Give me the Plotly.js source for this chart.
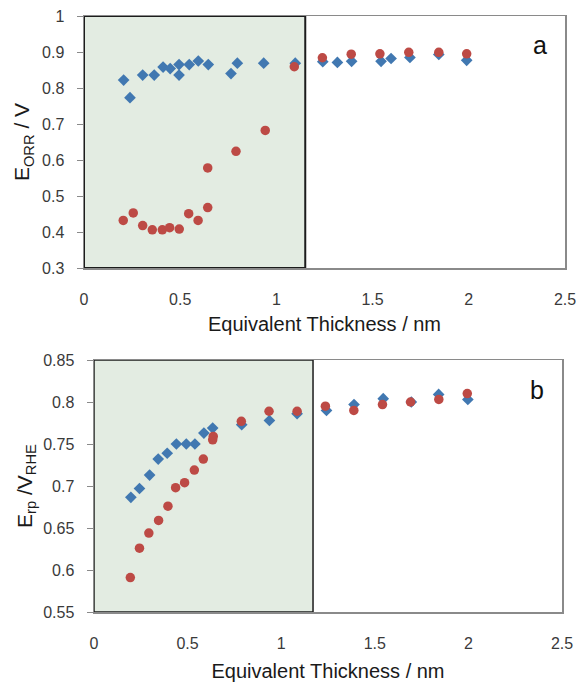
<!DOCTYPE html>
<html>
<head>
<meta charset="utf-8">
<script src="https://cdn.plot.ly/plotly-3.0.1.min.js"></script>
<style>html,body{margin:0;padding:0;background:#fff;}#chart{width:576px;height:682px;}</style>
</head>
<body>
<div id="chart"></div>
<script>
// Panel a: E_ORR vs equivalent thickness
const aBlueX = [0.206,0.239,0.305,0.365,0.411,0.448,0.494,0.494,0.547,0.594,0.646,0.764,0.797,0.934,1.098,1.241,1.317,1.391,1.544,1.596,1.694,1.844,1.989];
const aBlueY = [0.822,0.773,0.836,0.836,0.858,0.854,0.865,0.836,0.865,0.875,0.865,0.840,0.869,0.869,0.869,0.873,0.871,0.874,0.874,0.882,0.885,0.893,0.877];
const aRedX = [0.204,0.256,0.305,0.355,0.407,0.445,0.495,0.544,0.593,0.643,0.643,0.790,0.942,1.093,1.239,1.389,1.538,1.688,1.844,1.989];
const aRedY = [0.432,0.453,0.418,0.406,0.406,0.412,0.408,0.451,0.432,0.468,0.578,0.624,0.682,0.859,0.884,0.894,0.895,0.899,0.899,0.895];
// Panel b: E_rp vs equivalent thickness
const bBlueX = [0.197,0.243,0.297,0.343,0.391,0.440,0.493,0.539,0.587,0.634,0.789,0.937,1.085,1.242,1.389,1.545,1.695,1.841,1.997];
const bBlueY = [0.6865,0.697,0.713,0.732,0.739,0.750,0.750,0.750,0.763,0.769,0.773,0.778,0.786,0.790,0.797,0.804,0.800,0.809,0.803];
const bRedX = [0.194,0.243,0.293,0.345,0.395,0.436,0.484,0.536,0.584,0.634,0.637,0.787,0.935,1.085,1.236,1.388,1.541,1.691,1.842,1.994];
const bRedY = [0.591,0.626,0.644,0.659,0.676,0.698,0.704,0.719,0.732,0.755,0.759,0.777,0.789,0.789,0.795,0.790,0.797,0.800,0.803,0.810];
// Highlighted thin-film regions
const aRegion = [0, 1.15];
const bRegion = [0, 1.17];
const xTicks = [0, 0.5, 1, 1.5, 2, 2.5];
const xTickText = ['0','0.5','1','1.5','2','2.5'];
const aYTicks = [0.3,0.4,0.5,0.6,0.7,0.8,0.9,1];
const aYTickText = ['0.3','0.4','0.5','0.6','0.7','0.8','0.9','1'];
const bYTicks = [0.55,0.6,0.65,0.7,0.75,0.8,0.85];
const bYTickText = ['0.55','0.6','0.65','0.7','0.75','0.8','0.85'];

const BLUE = '#4178b1';
const RED = '#bd4a45';
const font = {family: 'Liberation Sans, Arial, sans-serif', color: '#3a3a3a', size: 16};

const blueM = {symbol: 'diamond', size: 9, color: BLUE};
const redM = {symbol: 'circle', size: 9.5, color: RED};

const data = [
  {x: aBlueX, y: aBlueY, mode: 'markers', type: 'scatter', marker: blueM, xaxis: 'x', yaxis: 'y'},
  {x: aRedX, y: aRedY, mode: 'markers', type: 'scatter', marker: redM, xaxis: 'x', yaxis: 'y'},
  {x: bBlueX, y: bBlueY, mode: 'markers', type: 'scatter', marker: blueM, xaxis: 'x2', yaxis: 'y2'},
  {x: bRedX, y: bRedY, mode: 'markers', type: 'scatter', marker: redM, xaxis: 'x2', yaxis: 'y2'}
];

const axLine = '#8a8a8a';
function xa(domain, anchor, standoff) {
  return {domain: domain, anchor: anchor, range: [0, 2.5], tickvals: xTicks, ticktext: xTickText,
    showgrid: false, zeroline: false, showline: true, linecolor: axLine, linewidth: 1.5, mirror: true,
    ticks: '', ticklabelstandoff: 16, ticklabeloverflow: 'allow', tickfont: {size: 16, color: '#3a3a3a'},
    title: {text: 'Equivalent Thickness / nm', font: {size: 20, color: '#1a1a1a'}, standoff: standoff}};
}
function ya(domain, anchor, range, tv, tt, title, standoff) {
  return {domain: domain, anchor: anchor, range: range, tickvals: tv, ticktext: tt,
    showgrid: false, zeroline: false, showline: true, linecolor: axLine, linewidth: 1.5, mirror: true,
    ticks: 'outside', ticklen: 6, tickcolor: axLine, tickwidth: 1, ticklabelstandoff: 9,
    tickfont: {size: 16, color: '#3a3a3a'},
    title: {text: title, font: {size: 21, color: '#1a1a1a'}, standoff: standoff}};
}

const layout = {
  width: 576, height: 682,
  margin: {l: 0, r: 0, t: 0, b: 0},
  paper_bgcolor: '#ffffff', plot_bgcolor: '#ffffff',
  showlegend: false,
  font: font,
  xaxis: xa([84/576, 565/576], 'y', 10),
  yaxis: ya([1-268/682, 1-16/682], 'x', [0.3, 1], aYTicks, aYTickText, 'E<sub>ORR</sub> / V', 6),
  xaxis2: xa([94/576, 562/576], 'y2', 14),
  yaxis2: ya([1-612/682, 1-360/682], 'x2', [0.55, 0.85], bYTicks, bYTickText, 'E<sub>rp</sub> /V<sub>RHE</sub>', 5),
  shapes: [
    {type: 'rect', xref: 'x', yref: 'y', x0: aRegion[0], x1: aRegion[1], y0: 0.3, y1: 1,
     fillcolor: '#e3ece2', line: {color: '#1c1c1c', width: 2}, layer: 'below'},
    {type: 'rect', xref: 'x2', yref: 'y2', x0: bRegion[0], x1: bRegion[1], y0: 0.55, y1: 0.85,
     fillcolor: '#e3ece2', line: {color: '#1c1c1c', width: 1.5}, layer: 'below'}
  ],
  annotations: [
    {text: 'a', xref: 'paper', yref: 'paper', x: 540/576, y: 1-45/682, showarrow: false,
     font: {size: 25, color: '#111'}, xanchor: 'center', yanchor: 'middle'},
    {text: 'b', xref: 'paper', yref: 'paper', x: 537/576, y: 1-390/682, showarrow: false,
     font: {size: 25, color: '#111'}, xanchor: 'center', yanchor: 'middle'}
  ]
};

Plotly.newPlot('chart', data, layout, {displayModeBar: false, staticPlot: true});
</script>
</body>
</html>
